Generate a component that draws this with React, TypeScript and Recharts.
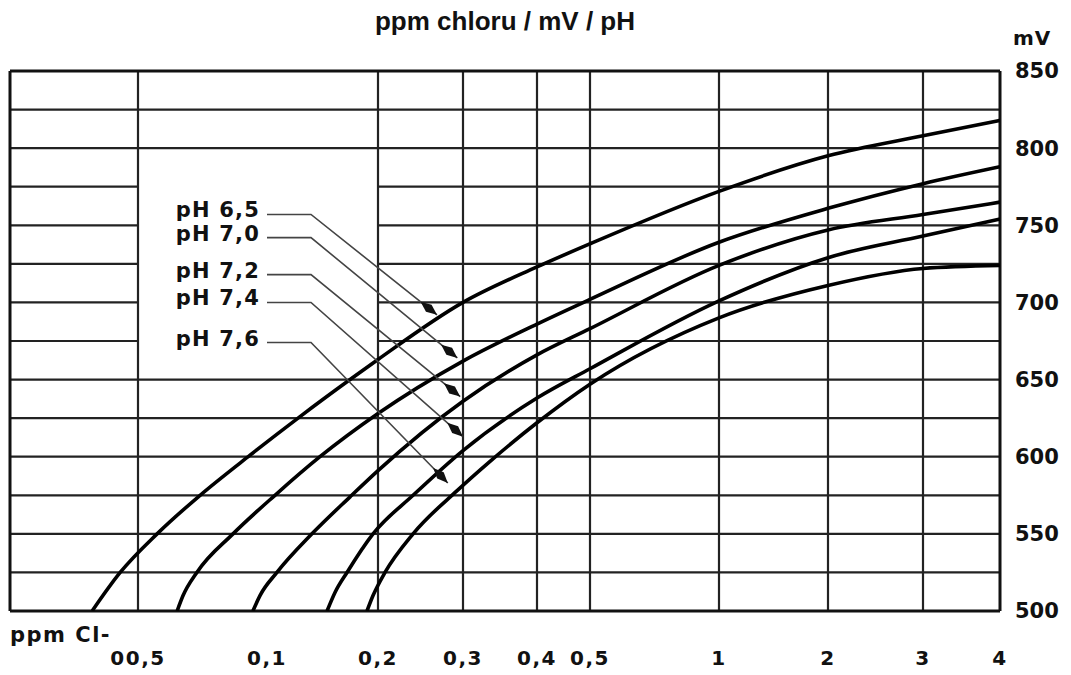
import React from 'react';
import { LineChart, Line, XAxis, YAxis, ReferenceLine } from 'recharts';

// curves: [ppm Cl-, mV]
const ph65 = [[0.039, 500], [0.0454, 525], [0.0554, 550], [0.0698, 575], [0.0913, 601], [0.1229, 626], [0.168, 650], [0.2, 663], [0.3, 700], [0.4, 723], [0.5, 738], [1, 772], [2, 795], [3, 808], [4, 818]];
const ph70 = [[0.0617, 500], [0.0637, 510], [0.0686, 525], [0.0833, 550], [0.1051, 575], [0.1392, 600], [0.2, 628], [0.3, 662], [0.4, 686], [0.5, 702], [1, 739], [2, 761], [3, 777], [4, 788]];
const ph72 = [[0.0927, 500], [0.0963, 510], [0.1064, 525], [0.1324, 550], [0.168, 574], [0.2, 591], [0.3, 636], [0.4, 666], [0.5, 683], [1, 724], [2, 747], [3, 757], [4, 765]];
const ph74 = [[0.1455, 500], [0.1529, 512], [0.1648, 525], [0.1939, 550], [0.2364, 575], [0.3, 604], [0.4, 638], [0.5, 657], [1, 701], [2, 729], [3, 743], [4, 754]];
const ph76 = [[0.1867, 500], [0.1939, 510], [0.2068, 525], [0.2364, 550], [0.2917, 578], [0.3333, 597], [0.4, 622], [0.5, 647], [1, 690], [2, 711], [3, 722], [4, 724]];

const seriesNames = ['pH 6,5', 'pH 7,0', 'pH 7,2', 'pH 7,4', 'pH 7,6'];
const seriesPoints = [ph65, ph70, ph72, ph74, ph76];

// printed ppm scale is hand drawn, not a clean log scale -> calibrate it
const axisPpm = [0.025, 0.05, 0.1, 0.2, 0.3, 0.4, 0.5, 1, 2, 3, 4];
const axisMark = [0, 128, 257, 368, 453, 527, 580, 709, 818, 913, 990];

const xTickPpm = [0.05, 0.1, 0.2, 0.3, 0.4, 0.5, 1, 2, 3, 4];
const xTickLabels = ['00,5', '0,1', '0,2', '0,3', '0,4', '0,5', '1', '2', '3', '4'];
const xGridPpm = [0.05, 0.2, 0.3, 0.4, 0.5, 1, 2, 3];

const mvTicks = [500, 550, 600, 650, 700, 750, 800, 850];
const mvGrid = [525, 550, 575, 600, 625, 650, 675, 700, 725, 750, 775, 800, 825];
const mvGridBroken = [675, 700, 725, 750, 775]; // blank box behind the labels

// pointer: label end [ppm, mV] -> arrow tip [ppm, mV]
const pointerFrom = [[0.1, 757], [0.1, 742], [0.1, 718], [0.1, 700], [0.1, 674]];
const pointerTo = [[0.265, 692], [0.292, 664], [0.296, 639], [0.3, 613], [0.279, 583]];

const toAxis = (ppm: number) => {
  for (let i = 0; i < axisPpm.length - 1; i++) {
    if (ppm <= axisPpm[i + 1] || i === axisPpm.length - 2) {
      const t = Math.log(ppm / axisPpm[i]) / Math.log(axisPpm[i + 1] / axisPpm[i]);
      return axisMark[i] + t * (axisMark[i + 1] - axisMark[i]);
    }
  }
  return 0;
};
const xMax = axisMark[axisMark.length - 1];

const bold = { fontFamily: 'DejaVu Sans', fontWeight: 'bold' as const };

const Pointer = (props: any) => {
  const { x1, y1, x2, y2, text } = props;
  const ex = x1 + 44;
  const ang = Math.atan2(y2 - y1, x2 - ex);
  const len = 21;
  const half = 4.5;
  const bx = x2 - len * Math.cos(ang);
  const by = y2 - len * Math.sin(ang);
  const px = -Math.sin(ang) * half;
  const py = Math.cos(ang) * half;
  const mx = x2 - len * 0.5 * Math.cos(ang);
  const my = y2 - len * 0.5 * Math.sin(ang);
  return (
    <g>
      <text x={x1 - 7} y={y1 + 3} textAnchor="end" fontSize={21} letterSpacing={1.2} fill="#111" {...bold}>{text}</text>
      <polyline points={`${x1},${y1} ${ex},${y1} ${x2},${y2}`} fill="none" stroke="#444" strokeWidth={1.6} />
      <polygon points={`${x2},${y2} ${mx + px},${my + py} ${bx},${by} ${mx - px},${my - py}`} fill="#111" />
    </g>
  );
};

export default function App() {
  return (
    <div style={{ position: 'absolute', left: 0, top: 0, width: 1071, height: 675, background: '#fff' }}>
      <LineChart width={1071} height={675} margin={{ top: 71, right: 11, bottom: 24, left: 10 }}>
        <XAxis
          type="number"
          dataKey="pos"
          domain={[0, xMax]}
          allowDataOverflow
          ticks={xTickPpm.map(toAxis)}
          tickFormatter={(_v: number, i: number) => xTickLabels[i]}
          interval={0}
          axisLine={false}
          tickLine={false}
          tickSize={0}
          tickMargin={40}
          height={40}
          tick={{ fontSize: 20, letterSpacing: 1.5, fill: '#111', ...bold }}
        />
        <YAxis
          type="number"
          orientation="right"
          domain={[500, 850]}
          allowDataOverflow
          ticks={mvTicks}
          interval={0}
          axisLine={false}
          tickLine={false}
          tickSize={0}
          tickMargin={15}
          width={60}
          tick={{ fontSize: 21, fill: '#111', ...bold }}
        />
        {mvGrid.map((mv) =>
          mvGridBroken.includes(mv) ? (
            <React.Fragment key={`h${mv}`}>
              <ReferenceLine segment={[{ x: 0, y: mv }, { x: toAxis(0.05), y: mv }]} stroke="#222" strokeWidth={2.2} />
              <ReferenceLine segment={[{ x: toAxis(0.2), y: mv }, { x: xMax, y: mv }]} stroke="#222" strokeWidth={2.2} />
            </React.Fragment>
          ) : (
            <ReferenceLine key={`h${mv}`} y={mv} stroke="#222" strokeWidth={2.2} />
          )
        )}
        {xGridPpm.map((p) => (
          <ReferenceLine key={`v${p}`} x={toAxis(p)} stroke="#222" strokeWidth={2.2} />
        ))}
        <ReferenceLine x={0} stroke="#111" strokeWidth={3} />
        <ReferenceLine x={xMax} stroke="#111" strokeWidth={3} />
        <ReferenceLine y={500} stroke="#111" strokeWidth={3} />
        <ReferenceLine y={850} stroke="#111" strokeWidth={3} />
        {seriesPoints.map((pts, i) => (
          <Line
            key={seriesNames[i]}
            name={seriesNames[i]}
            data={pts.map(([ppm, mv]) => ({ pos: toAxis(ppm), mv }))}
            dataKey="mv"
            type="monotone"
            stroke="#000"
            strokeWidth={3.6}
            dot={false}
            isAnimationActive={false}
          />
        ))}
        {seriesNames.map((name, i) => (
          <ReferenceLine
            key={`p${i}`}
            segment={[
              { x: toAxis(pointerFrom[i][0]), y: pointerFrom[i][1] },
              { x: toAxis(pointerTo[i][0]), y: pointerTo[i][1] },
            ]}
            shape={(p: any) => <Pointer {...p} text={name} />}
          />
        ))}
      </LineChart>
      <svg width={1071} height={675} style={{ position: 'absolute', left: 0, top: 0, pointerEvents: 'none' }}>
        <text x={505} y={30} textAnchor="middle" fontFamily="Liberation Sans" fontWeight="bold" fontSize={26} fill="#111">
          ppm chloru / mV / pH
        </text>
        <text x={1013} y={45} fontSize={20} letterSpacing={1} fill="#111" {...bold}>mV</text>
        <text x={10} y={642} fontSize={21} letterSpacing={1.5} fill="#111" {...bold}>ppm Cl-</text>
      </svg>
    </div>
  );
}
